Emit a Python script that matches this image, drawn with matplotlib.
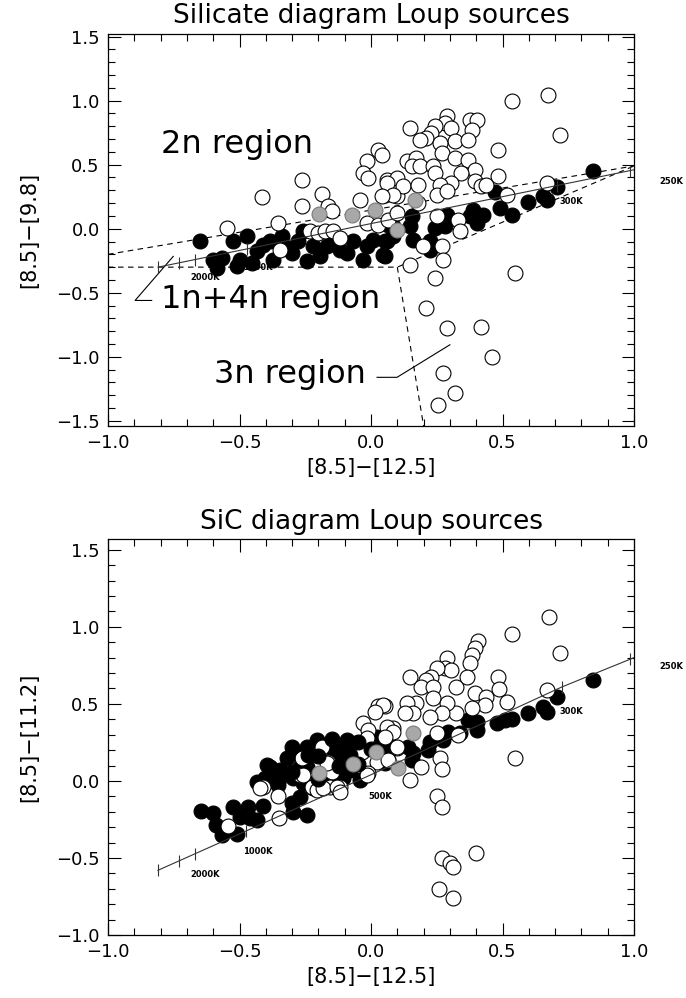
import numpy as np
import matplotlib.pyplot as plt
from matplotlib.ticker import MultipleLocator

# ---- silicate diagram ([8.5]-[12.5] vs [8.5]-[9.8])
sil_open_x = [-0.264, -0.416, -0.187, -0.264, -0.162, -0.15, -0.549, -0.352, -0.232, -0.2, -0.175, -0.143, -0.346, -0.118,
              0.028, 0.04, -0.016, -0.029, -0.01, -0.042, 0.06, 0.053, 0.097, -0.016, 0.028, 0.066,
              0.538, 0.674, 0.719, 0.484, 0.148, 0.288, 0.281, 0.376, 0.402, 0.383, 0.243, 0.23, 0.211, 0.186,
              0.306, 0.319, 0.262, 0.37, 0.136, 0.173, 0.154, 0.186, 0.237, 0.243, 0.269, 0.319, 0.37, 0.395,
              0.344, 0.306, 0.262, 0.25, 0.288, 0.395, 0.42, 0.439, 0.484, 0.668, 0.516, 0.097, 0.06, 0.122,
              0.18, 0.085, 0.04, 0.18, 0.097, 0.332, 0.25, 0.338, 0.199, 0.269, 0.275, 0.148, 0.243, 0.548,
              0.211, 0.29, 0.418, 0.46, 0.275, 0.32, 0.256]
sil_open_y = [0.383, 0.248, 0.273, 0.174, 0.174, 0.135, 0.005, 0.044, -0.02, -0.034, -0.02, -0.02, -0.17, -0.073,
              0.617, 0.578, 0.526, 0.435, 0.396, 0.227, 0.383, 0.266, 0.252, 0.044, 0.031, 0.07,
              0.995, 1.04, 0.734, 0.617, 0.787, 0.877, 0.826, 0.852, 0.852, 0.773, 0.80, 0.747, 0.708, 0.695,
              0.787, 0.682, 0.669, 0.695, 0.526, 0.552, 0.487, 0.487, 0.487, 0.435, 0.591, 0.552, 0.539, 0.461,
              0.435, 0.357, 0.344, 0.266, 0.292, 0.37, 0.331, 0.344, 0.409, 0.357, 0.266, 0.396, 0.357, 0.331,
              0.344, 0.266, 0.252, 0.2, 0.122, 0.07, 0.096, -0.02, -0.138, -0.138, -0.242, -0.281, -0.385, -0.346,
              -0.62, -0.776, -0.77, -1.0, -1.128, -1.284, -1.375]
sil_fill_x = [-0.65, -0.524, -0.473, -0.60, -0.568, -0.587, -0.511, -0.498, -0.454, -0.435, -0.41, -0.384, -0.34,
              -0.371, -0.32, -0.30, -0.276, -0.245, -0.257, -0.219, -0.169, -0.143, -0.118, -0.067, -0.029,
              -0.016, 0.009, 0.053, 0.06, 0.084, 0.084, -0.194, -0.093,
              0.471, 0.49, 0.535, 0.598, 0.655, 0.668, 0.706, 0.845, 0.389, 0.402, 0.376, 0.288, 0.281, 0.243,
              0.154, 0.148, 0.161, 0.224, 0.224, 0.066, 0.053, 0.047, 0.427]
sil_fill_y = [-0.099, -0.099, -0.06, -0.242, -0.229, -0.307, -0.294, -0.242, -0.268, -0.177, -0.125, -0.099, -0.06,
              -0.242, -0.151, -0.19, -0.099, -0.255, -0.02, -0.138, -0.138, -0.086, -0.164, -0.099, -0.242,
              -0.138, -0.086, -0.216, -0.099, -0.06, 0.018, -0.216, -0.19,
              0.284, 0.161, 0.109, 0.206, 0.252, 0.227, 0.326, 0.448, 0.148, 0.044, 0.096, 0.109, 0.018, 0.005,
              0.096, 0.018, -0.086, -0.099, -0.164, 0.031, -0.099, -0.203, 0.109]
sil_gray_x = [-0.196, -0.073, 0.015, 0.098, 0.167]
sil_gray_y = [0.117, 0.109, 0.143, -0.008, 0.227]

# blackbody line and temperature marks
sil_bb_x = [-0.81, -0.47, 0.0, 0.707, 1.0]
sil_bb_y = [-0.30, -0.157, 0.04, 0.337, 0.46]
sil_tick_x = [-0.81, -0.73, -0.67, -0.47, 0.707, 0.985]
sil_tick_y = [-0.30, -0.266, -0.241, -0.157, 0.337, 0.454]
sil_temp = ['2000K', '1000K', '300K', '250K']
sil_temp_x = [-0.63, -0.43, 0.76, 1.14]
sil_temp_y = [-0.38, -0.30, 0.21, 0.37]

# region boundaries
upper_x, upper_y = [-1.0, 1.0], [-0.2, 0.49]
lower_x, lower_y = [-1.0, 0.1, 1.0], [-0.3, -0.3, 0.49]
down_x, down_y = [0.1, 0.2], [-0.3, -1.54]

# ---- SiC diagram ([8.5]-[12.5] vs [8.5]-[11.2])
sic_open_x = [0.677, 0.537, 0.72, 0.408, 0.395, 0.383, 0.376, 0.288, 0.281, 0.306, 0.25, 0.23, 0.211, 0.148,
              0.192, 0.237, 0.325, 0.364, 0.484, 0.487, 0.516, 0.668, 0.395, 0.439, 0.433, 0.383, 0.325, 0.288,
              0.237, 0.269, 0.224, 0.173, 0.136, 0.161, 0.129, 0.085, 0.053, 0.25, 0.332, 0.262, 0.269, 0.192,
              0.148, 0.066, 0.548, 0.097,
              0.028, 0.047, 0.015, -0.029, -0.01, -0.016, 0.06, 0.085, 0.053, -0.035, 0.022, 0.066, 0.097,
              -0.188, -0.264, -0.162, -0.27, -0.15, -0.01, -0.41, -0.225, -0.19, -0.155, -0.118,
              -0.543, -0.422, -0.352, -0.35, -0.257, -0.206, -0.181, -0.131, -0.118, -0.016, -0.169,
              0.25, 0.27, 0.27, 0.30, 0.31, 0.26, 0.31, 0.40]
sic_open_y = [1.063, 0.952, 0.827, 0.911, 0.861, 0.818, 0.764, 0.797, 0.732, 0.721, 0.732, 0.677, 0.656, 0.673,
              0.612, 0.612, 0.612, 0.677, 0.677, 0.595, 0.515, 0.591, 0.569, 0.547, 0.494, 0.472, 0.44, 0.505,
              0.537, 0.44, 0.418, 0.505, 0.505, 0.44, 0.44, 0.342, 0.483, 0.31, 0.299, 0.147, 0.076, 0.093,
              0.006, 0.136, 0.147, 0.212,
              0.483, 0.494, 0.45, 0.374, 0.331, 0.277, 0.353, 0.32, 0.288, 0.19, 0.125, 0.136, 0.223,
              0.223, 0.147, 0.125, 0.039, 0.06, 0.05, -0.037, -0.037, -0.04, -0.037, -0.037,
              -0.292, -0.047, -0.097, -0.242, 0.039, -0.058, -0.047, -0.037, -0.069, 0.039, 0.115,
              -0.10, -0.17, -0.50, -0.53, -0.56, -0.70, -0.76, -0.47]
sic_fill_x = [0.845, 0.706, 0.655, 0.668, 0.598, 0.535, 0.51, 0.478, 0.402, 0.37, 0.402, 0.294, 0.275, 0.224,
              0.218, 0.161, 0.154, 0.142, 0.06, 0.047, 0.053, 0.338,
              -0.093, -0.245, -0.283, -0.206, -0.143, -0.118, -0.245, -0.384, -0.346, -0.403, 0.022, 0.06,
              -0.08, -0.105, -0.295, -0.143, -0.042,
              -0.648, -0.602, -0.589, -0.568, -0.511, -0.526, -0.498, -0.469, -0.46, -0.435, -0.412, -0.435,
              -0.397, -0.371, -0.346, -0.352, -0.302, -0.295, -0.27, -0.245, -0.257, -0.219, -0.27]
sic_fill_y = [0.656, 0.547, 0.482, 0.45, 0.44, 0.40, 0.396, 0.379, 0.385, 0.396, 0.331, 0.32, 0.266, 0.255,
              0.201, 0.18, 0.136, 0.223, 0.255, 0.18, 0.115, 0.31,
              0.266, 0.223, 0.18, 0.266, 0.201, 0.18, 0.093, 0.093, 0.071, 0.018, 0.288, 0.223,
              0.071, 0.018, 0.018, 0.006, 0.006,
              -0.195, -0.21, -0.286, -0.351, -0.346, -0.171, -0.232, -0.167, -0.242, -0.253, -0.162, -0.004,
              0.104, 0.071, 0.039, -0.026, -0.145, -0.199, -0.102, -0.221, -0.015, -0.047, 0.093]
# black points drawn above the open circles (dense part of the cluster)
sic_top_x = [-0.32, -0.30, -0.20, -0.10, -0.05, 0.0, -0.15, -0.35, -0.30, -0.20, -0.05, -0.12, -0.24, -0.08]
sic_top_y = [0.15, 0.22, 0.16, 0.22, 0.25, 0.21, 0.27, 0.01, 0.06, 0.01, 0.11, 0.10, 0.17, 0.17]
sic_gray_x = [0.161, 0.104, -0.196, -0.07, 0.019]
sic_gray_y = [0.314, 0.082, 0.05, 0.11, 0.186]

sic_bb_x = [-0.81, -0.475, 0.0, 0.726, 1.0]
sic_bb_y = [-0.58, -0.325, 0.04, 0.61, 0.80]
sic_tick_x = [-0.81, -0.73, -0.67, -0.475, 0.726, 0.985]
sic_tick_y = [-0.58, -0.52, -0.474, -0.325, 0.61, 0.79]
sic_temp = ['2000K', '1000K', '500K', '300K', '250K']
sic_temp_x = [-0.63, -0.43, 0.034, 0.76, 1.14]
sic_temp_y = [-0.61, -0.46, -0.10, 0.45, 0.74]

W, H = 686, 998
fig = plt.figure(figsize=(W / 100, H / 100), dpi=100)
ax1 = fig.add_axes([108 / W, 1 - 426 / H, 526 / W, 392 / H])
ax2 = fig.add_axes([108 / W, 1 - 935 / H, 526 / W, 396 / H])

ms = 115


def fmt(v, p):
    return '%.1f' % v if v >= 0 else '\u2212%.1f' % -v


def style(ax, ylim):
    ax.set_xlim(-1.0, 1.0)
    ax.set_ylim(*ylim)
    ax.xaxis.set_major_locator(MultipleLocator(0.5))
    ax.xaxis.set_minor_locator(MultipleLocator(0.1))
    ax.yaxis.set_major_locator(MultipleLocator(0.5))
    ax.yaxis.set_minor_locator(MultipleLocator(0.1))
    ax.xaxis.set_major_formatter(plt.FuncFormatter(fmt))
    ax.yaxis.set_major_formatter(plt.FuncFormatter(fmt))
    ax.tick_params(which='both', direction='in', top=True, right=True, labelsize=13, pad=6, width=0.8)
    ax.tick_params(which='major', length=9)
    ax.tick_params(which='minor', length=5)
    for s in ax.spines.values():
        s.set_linewidth(0.9)


def points(ax, fx, fy, ox, oy, gx, gy):
    ax.scatter(fx, fy, s=ms, c='black', edgecolors='black', linewidths=0.8, zorder=3)
    ax.scatter(ox, oy, s=ms, c='white', edgecolors='black', linewidths=0.8, zorder=4)
    ax.scatter(gx, gy, s=ms, c='#a8a8a8', edgecolors='#7a7a7a', linewidths=0.8, zorder=5)


# top panel
style(ax1, (-1.54, 1.52))
ax1.plot(upper_x, upper_y, 'k', ls=(0, (5, 4)), lw=0.8, zorder=2)
ax1.plot(lower_x, lower_y, 'k', ls=(0, (5, 4)), lw=0.8, zorder=2)
ax1.plot(down_x, down_y, 'k', ls=(0, (5, 4)), lw=0.8, zorder=2)
points(ax1, sil_fill_x, sil_fill_y, sil_open_x, sil_open_y, sil_gray_x, sil_gray_y)
ax1.plot(sil_bb_x, sil_bb_y, color='#333333', lw=0.8, zorder=6)
ax1.plot(sil_tick_x, sil_tick_y, ls='none', marker='|', ms=9, mew=0.8, color='#333333', zorder=6)
for t, x, y in zip(sil_temp, sil_temp_x, sil_temp_y):
    ax1.text(x, y, t, fontsize=6, fontweight='bold', ha='center', va='center', clip_on=False, zorder=7)
ax1.text(-0.51, 0.66, '2n region', fontsize=23, ha='center', va='center')
ax1.text(-0.38, -0.55, '1n+4n region', fontsize=23, ha='center', va='center')
ax1.plot([-0.834, -0.897, -0.752], [-0.56, -0.56, -0.216], 'k', lw=0.8)
ax1.text(-0.31, -1.14, '3n region', fontsize=23, ha='center', va='center')
ax1.plot([0.023, 0.099, 0.30], [-1.16, -1.16, -0.906], 'k', lw=0.8)
ax1.set_title('Silicate diagram Loup sources', fontsize=19, pad=8)
ax1.set_xlabel('[8.5]\u2212[12.5]', fontsize=15, labelpad=4)
ax1.set_ylabel('[8.5]\u2212[9.8]', fontsize=15, labelpad=12)

# bottom panel
style(ax2, (-1.0, 1.57))
points(ax2, sic_fill_x, sic_fill_y, sic_open_x, sic_open_y, sic_gray_x, sic_gray_y)
ax2.scatter(sic_top_x, sic_top_y, s=ms, c='black', edgecolors='black', linewidths=0.8, zorder=4.5)
ax2.plot(sic_bb_x, sic_bb_y, color='#333333', lw=0.8, zorder=6)
ax2.plot(sic_tick_x, sic_tick_y, ls='none', marker='|', ms=9, mew=0.8, color='#333333', zorder=6)
for t, x, y in zip(sic_temp, sic_temp_x, sic_temp_y):
    ax2.text(x, y, t, fontsize=6, fontweight='bold', ha='center', va='center', clip_on=False, zorder=7)
ax2.set_title('SiC diagram Loup sources', fontsize=19, pad=7)
ax2.set_xlabel('[8.5]\u2212[12.5]', fontsize=15, labelpad=4)
ax2.set_ylabel('[8.5]\u2212[11.2]', fontsize=15, labelpad=12)

fig.savefig('out.png', dpi=100)
